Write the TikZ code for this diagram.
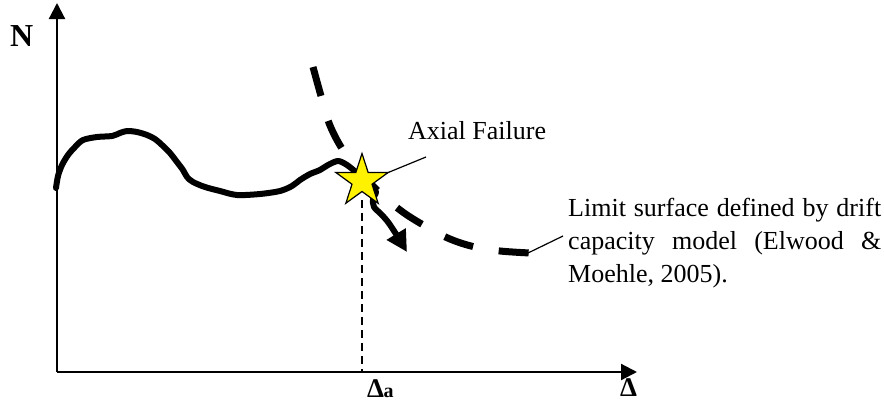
\documentclass[tikz,border=0pt]{standalone}
\usepackage{fontspec}
\setmainfont{Liberation Serif}
\usetikzlibrary{arrows.meta,shapes.geometric}
\begin{document}
\begin{tikzpicture}[x=1pt,y=-1pt,
  axis/.style={line width=2.2pt,-{Triangle[length=16pt,width=16pt]}},
  lbl/.style={inner sep=0pt,font=\fontsize{26}{33}\selectfont},
  boldlbl/.style={inner sep=0pt,font=\fontsize{27}{28}\selectfont\bfseries},
  leader/.style={line width=1.2pt},
  response/.style={line width=6pt,line join=round,line cap=round},
  limit/.style={line width=7pt,dash pattern=on 30pt off 26pt},
  failstar/.style={star,star points=5,star point ratio=2.618,minimum size=55pt,inner sep=0pt,fill=yellow,draw=black,line width=1.2pt}
]
\useasboundingbox (0,0) rectangle (884,402);
% axes
\coordinate (O) at (57,372);
\coordinate (ytip) at (57,3);
\coordinate (xtip) at (637,372);
\draw[axis] (O) -- (ytip);
\draw[axis] (O) -- (xtip);
\node[inner sep=0pt,font=\fontsize{32}{33}\selectfont\bfseries,anchor=base west] (N) at (10,46) {N};
\node[boldlbl,anchor=base west] (D) at (620,396) {Δ};
\node[boldlbl,anchor=base west] (Da) at (367,397) {Δ\kern-0.5pt{\fontsize{20}{20}\selectfont a}};
% limit surface (dashed)
\draw[limit] plot[smooth,tension=0.6] coordinates {(313,67) (321,96) (329,123) (341,147) (356,167) (376,189) (400,210) (425,226) (450,239) (475,247) (500,251) (530,253)};
\coordinate (limend) at (528,253);
% response curve
\draw[response,-{Triangle[length=21pt,width=21pt]}] plot[smooth,tension=0.5] coordinates {(56,188) (58,176) (62,165) (68,155) (75,147) (83,140) (97,137) (112,136) (120,133) (127,131) (137,132) (147,135) (155,139) (162,145) (170,153) (177,162) (183,170) (187,177) (193,182) (205,187) (220,191) (237,195) (260,194) (280,191) (292,186) (300,180) (310,174) (320,170) (328,165) (338,161) (347,165) (357,173) (365,180) (372,186) (376,192) (373,199) (374,207) (381,214) (388,222) (396,234) (407,252)};
% vertical dashed line and star
\coordinate (Sbase) at (362,372);
\draw[line width=2pt,dash pattern=on 8pt off 5pt] (362,200) -- (Sbase);
\node[failstar] (S) at (362,181) {};
% labels
\node[lbl,anchor=base west] (AF) at (408,139) {Axial Failure};
\coordinate (afl) at (426,157);
\coordinate (afs) at (387,173);
\draw[leader] (afs) -- (afl);
\node[lbl,anchor=base west,text width=313pt,align=justify] (LS) at (568,216) {Limit surface defined by drift capacity model (Elwood \& Moehle, 2005).};
\coordinate (lsl) at (563,236);
\draw[leader] (limend) -- (lsl);
\end{tikzpicture}
\end{document}
